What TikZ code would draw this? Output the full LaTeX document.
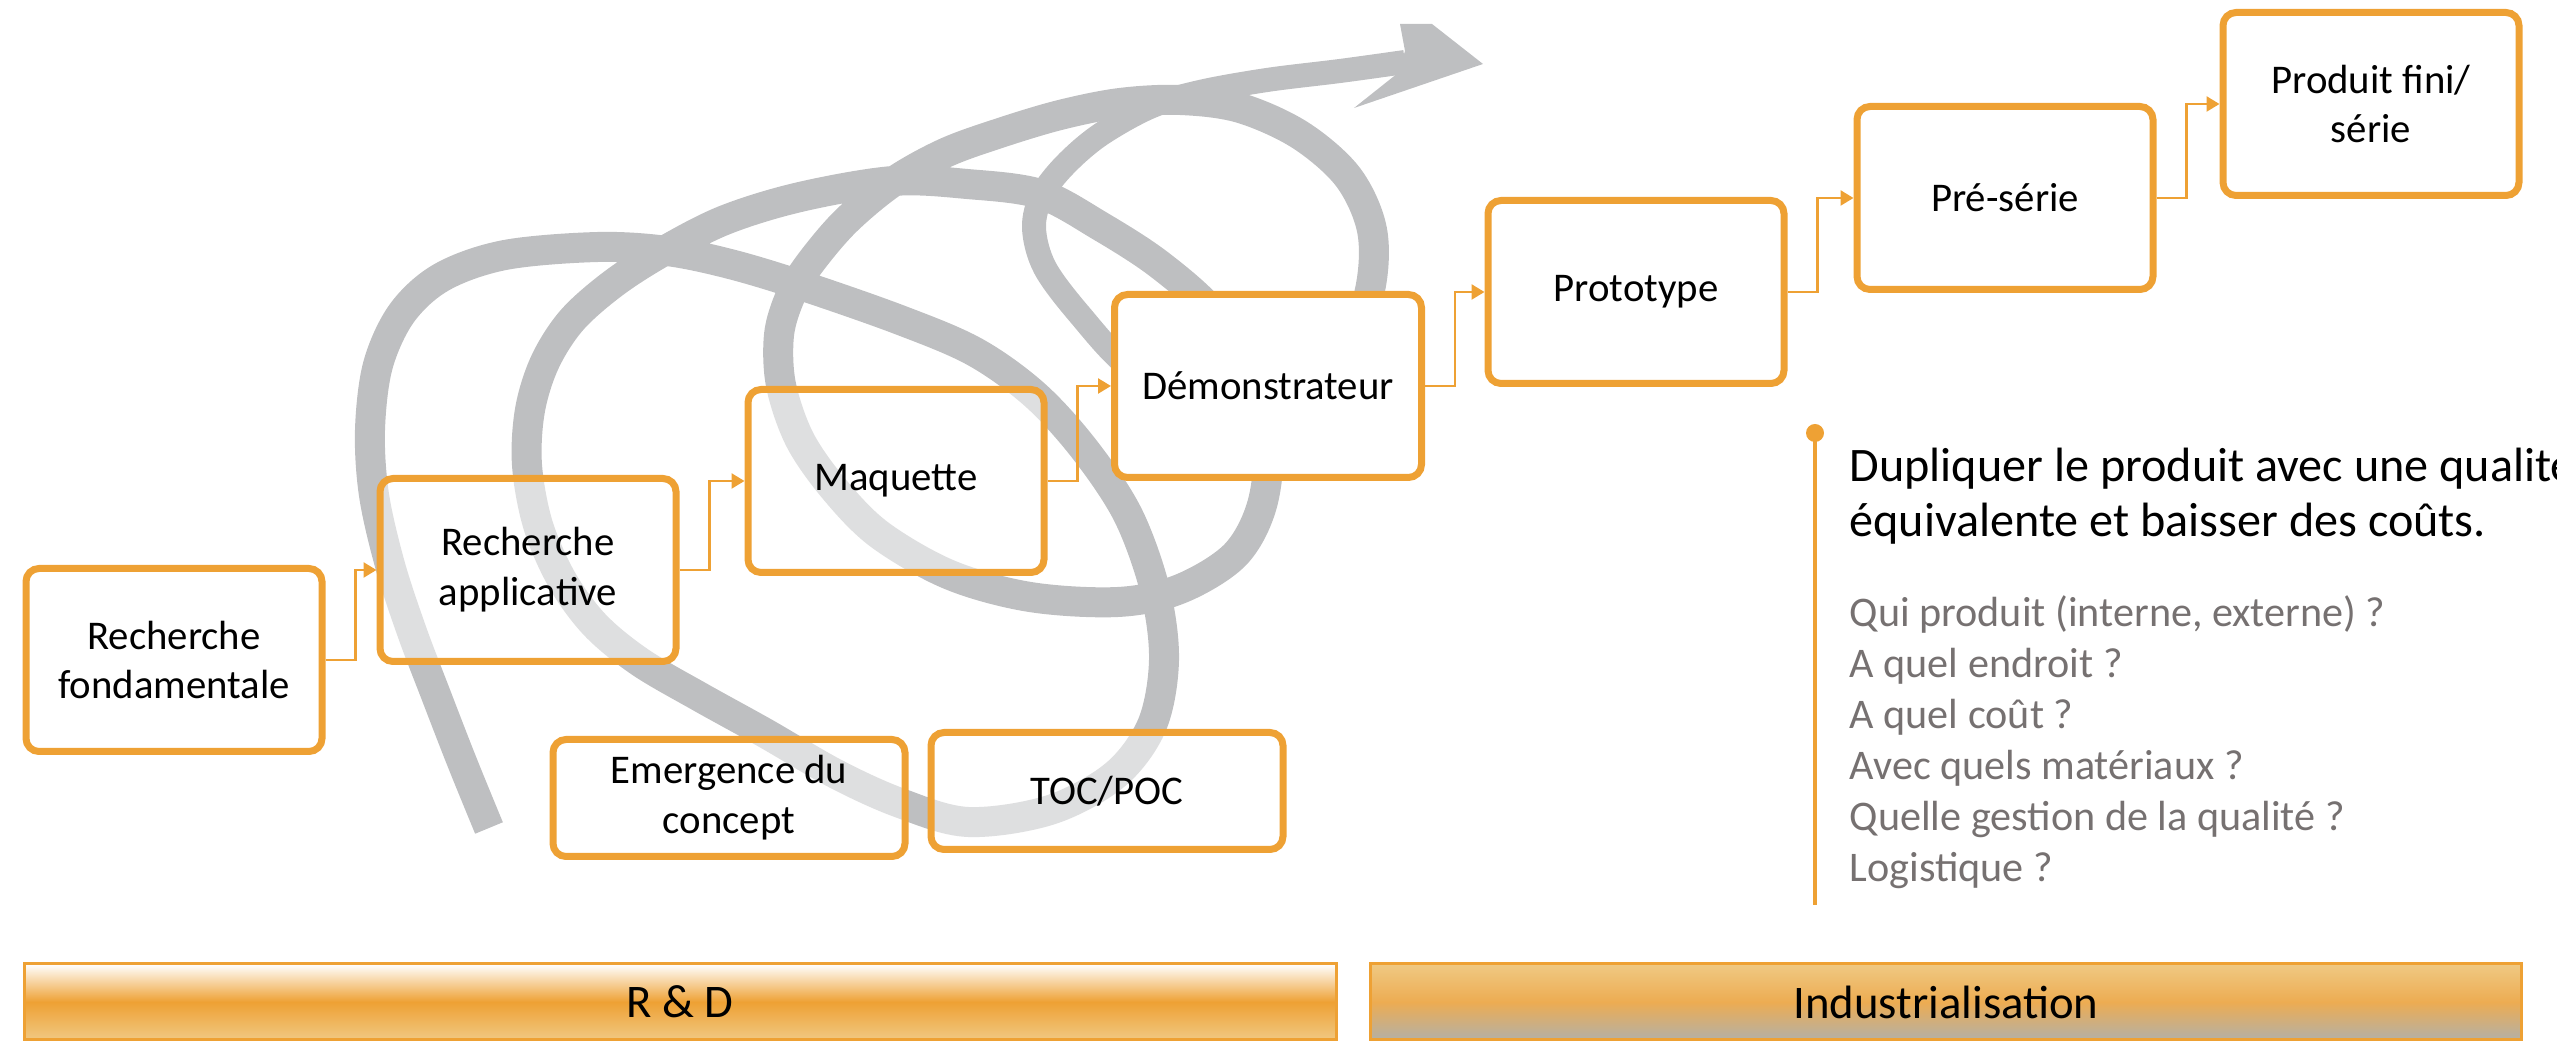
\documentclass[tikz,border=0pt]{standalone}
\usepackage{fontspec}
\setmainfont{Carlito}
\usetikzlibrary{arrows.meta}
\definecolor{accent}{RGB}{238,161,52}
\definecolor{spiralgray}{RGB}{190,191,193}
\definecolor{notegray}{RGB}{118,113,113}
\definecolor{rdlow}{RGB}{240,200,130}
\definecolor{indtop}{RGB}{239,201,131}
\definecolor{indmid}{RGB}{237,172,82}
\definecolor{indlow}{RGB}{180,176,166}
\newcommand\stagefont{\fontsize{11.6}{14.2}\selectfont}
\newcommand\leadfont{\fontsize{13.7}{16.4}\selectfont}
\newcommand\askfont{\fontsize{12}{14.4}\selectfont}
\newcommand\barfont{\fontsize{13.3}{16}\selectfont}
\begin{document}
\begin{tikzpicture}[x=0.1mm, y=-0.1mm,
    spiral/.style={draw=spiralgray, line width=3mm, line join=round},
    stage/.style={draw=accent, line width=0.7mm, rounded corners=1.3mm,
        fill=white, fill opacity=0.5, text opacity=1, align=center,
        minimum width=29.6mm, minimum height=18.3mm, inner sep=1mm,
        font=\stagefont},
    idea/.style={stage, minimum width=35.2mm, minimum height=11.7mm},
    link/.style={draw=accent, line width=0.25mm,
        -{Triangle[length=1.3mm, width=1.5mm]}},
    bar/.style={draw=accent, line width=0.3mm, minimum height=7.6mm,
        inner sep=0, font=\barfont},
    ]
\useasboundingbox (0,0) rectangle (2557,1045);

\draw[spiral] plot[smooth, tension=0.55] coordinates {
  (489,828) (462,762) (436,695) (412,632) (390,565) (374,495) (370,430)
  (378,365) (402,313) (442,277) (505,255) (598,247) (667,251) (730,264)
  (800,285) (900,320) (975,352) (1035,395) (1085,450) (1128,515)
  (1155,590) (1164,660) (1152,725) (1115,775) (1050,810) (968,822)
  (900,803) (836,774) (765,733) (700,697) (640,662) (595,625) (562,580)
  (538,525) (527,465) (530,410) (545,362) (572,320) (614,283) (664,251)
  (725,220) (800,197) (893,181) (967,184) (1040,194) (1100,226)
  (1160,265) (1215,315) (1250,380) (1268,440) (1262,505) (1235,555)
  (1180,589) (1118,602) (1030,597) (950,575) (880,535) (835,490)
  (800,440) (781,385) (779,335) (790,297) (808,266) (845,222) (893,182)
  (945,153) (1000,133) (1060,115) (1120,103) (1180,100) (1240,108)
  (1300,135) (1348,177) (1372,230) (1370,290) (1345,360) (1290,405)
  (1200,405)};
\draw[spiral, line width=2.4mm] plot[smooth, tension=0.55] coordinates {
  (1290,405) (1200,405) (1130,368) (1080,315) (1045,268) (1034,228)
  (1042,195) (1065,165) (1100,135) (1150,107) (1200,92) (1267,80)
  (1340,71) (1405,62)};
\fill[spiralgray] (1400,24) -- (1432,24) -- (1483,64) -- (1354,108)
  -- (1398,73) -- (1405,51) -- cycle;

\node[stage] (rf) at (174,660) {Recherche\\fondamentale};
\node[stage] (ra) at (528,570) {Recherche\\applicative};
\node[stage] (maq) at (896,481) {Maquette};
\node[stage, fill opacity=1, minimum width=30.7mm] (demo) at (1268,386) {Démonstrateur};
\node[stage] (proto) at (1636,292) {Prototype};
\node[stage] (pre) at (2005,198) {Pré-série};
\node[stage] (pf) at (2371,104) {Produit fini/\\série};
\node[idea] (emer) at (729,798) {Emergence du\\concept};
\node[idea] (toc) at (1107,791) {TOC/POC};

\foreach \a/\b in {rf/ra, ra/maq, maq/demo, demo/proto, proto/pre, pre/pf}
  \draw[link] (\a.east) -- ++(30,0) |- (\b.west);

\node[bar, minimum width=131.2mm, top color=white, bottom color=rdlow,
  middle color=accent] (rd) at (680,1002) {R \& D};
\node[bar, minimum width=115.1mm, top color=indtop, bottom color=indlow,
  middle color=indmid] (indus) at (1946,1002) {Industrialisation};

\coordinate (notetop) at (1815,433);
\coordinate (notebot) at (1815,905);
\draw[accent, line width=0.4mm] (notetop) -- (notebot);
\fill[accent] (notetop) circle[radius=0.9mm];
\node[anchor=base west, inner sep=0, font=\leadfont] (lead1) at (1849,482)
  {Dupliquer le produit avec une qualité};
\node[anchor=base west, inner sep=0, font=\leadfont] (lead2) at (1849,537)
  {équivalente et baisser des coûts.};
\foreach \q [count=\i from 0] in {{Qui produit (interne, externe) ?},
    {A quel endroit ?}, {A quel coût ?}, {Avec quels matériaux ?},
    {Quelle gestion de la qualité ?}, {Logistique ?}}
  \node[anchor=base west, inner sep=0, font=\askfont, text=notegray]
    (ask\i) at (1849,{627+51*\i}) {\q};
\end{tikzpicture}
\end{document}
